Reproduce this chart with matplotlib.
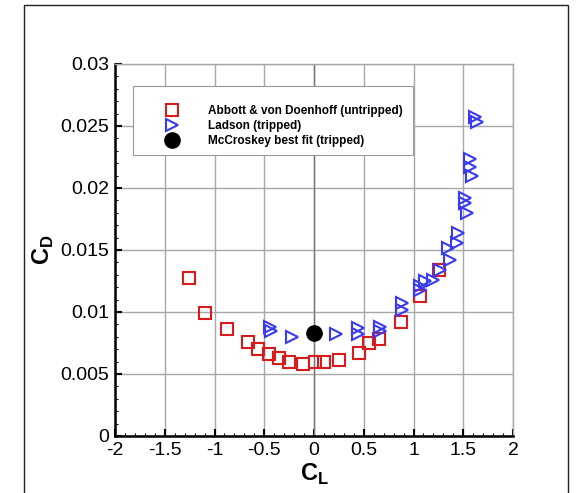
import matplotlib

matplotlib.use("Agg")
import matplotlib.pyplot as plt
from matplotlib.lines import Line2D
from matplotlib.patches import Rectangle

plt.rcParams["font.family"] = ["Liberation Sans", "DejaVu Sans"]
plt.rcParams["mathtext.fontset"] = "custom"
plt.rcParams["mathtext.rm"] = "Liberation Sans"
plt.rcParams["mathtext.bf"] = "Liberation Sans:bold"

# Abbott & von Doenhoff, untripped
abbott_cl = [-1.26, -1.10, -0.87, -0.66, -0.56, -0.455, -0.355, -0.255, -0.11,
             0.015, 0.105, 0.25, 0.45, 0.55, 0.655, 0.87, 1.07, 1.255]
abbott_cd = [0.01277, 0.00995, 0.0086, 0.0076, 0.0070, 0.0066, 0.0063, 0.0060,
             0.0058, 0.0060, 0.0060, 0.0061, 0.0067, 0.0075, 0.0078, 0.0092,
             0.0113, 0.0134]

# Ladson, tripped
ladson_cl = [-0.44, -0.43, -0.22, 0.22, 0.44, 0.44, 0.66, 0.66, 0.88, 0.88,
             1.065, 1.065, 1.115, 1.20, 1.265, 1.365, 1.35, 1.435, 1.45, 1.535,
             1.52, 1.52, 1.585, 1.57, 1.57, 1.62, 1.635]
ladson_cd = [0.0088, 0.0085, 0.0080, 0.0082, 0.0087, 0.0082, 0.0088, 0.0085,
             0.0107, 0.0102, 0.0118, 0.0121, 0.0125, 0.0126, 0.0134, 0.0142,
             0.0152, 0.0156, 0.0164, 0.0180, 0.0188, 0.0192, 0.0210, 0.0217,
             0.0223, 0.02575, 0.02535]

# McCroskey best fit, tripped
mccroskey_cl = [0.0]
mccroskey_cd = [0.0083]

red = "#d81c1c"
blue = "#3a3af0"
grid_gray = "#a8a8a8"

fig = plt.figure(figsize=(5.8, 4.93), dpi=100)
ax = fig.add_axes([115 / 580, 1 - 436 / 493, 398 / 580, 372 / 493])

ax.plot(abbott_cl, abbott_cd, ls="none", marker="s", ms=8, mfc="none",
        mec=red, mew=1.5, zorder=3)
ax.plot(ladson_cl, ladson_cd, ls="none", marker=">", ms=9, mfc="none",
        mec=blue, mew=1.5, zorder=4)
ax.plot(mccroskey_cl, mccroskey_cd, ls="none", marker="o", ms=11,
        color="black", zorder=5)

ax.set_xlim(-2, 2)
ax.set_ylim(0, 0.03)
ax.set_xticks([-2, -1.5, -1, -0.5, 0, 0.5, 1, 1.5, 2])
ax.set_xticklabels(["-2", "-1.5", "-1", "-0.5", "0", "0.5", "1", "1.5", "2"])
ax.set_yticks([0, 0.005, 0.01, 0.015, 0.02, 0.025, 0.03])
ax.set_yticklabels(["0", "0.005", "0.01", "0.015", "0.02", "0.025", "0.03"])
ax.set_xticks([x / 10 for x in range(-20, 21)], minor=True)
ax.set_yticks([y / 1000 for y in range(0, 31)], minor=True)

ax.grid(True, which="major", color=grid_gray, lw=1.0)
ax.axvline(0, color="#777777", lw=1.0, zorder=1)
ax.set_axisbelow(True)

ax.tick_params(which="major", direction="in", length=5, width=1.5,
               labelsize=14, pad=4, top=False, right=False)
ax.tick_params(which="minor", direction="in", length=2.5, width=0.8,
               top=False, right=False)

for side in ["left", "bottom"]:
    ax.spines[side].set_linewidth(1.8)
    ax.spines[side].set_color("black")
for side in ["top", "right"]:
    ax.spines[side].set_linewidth(1.0)
    ax.spines[side].set_color(grid_gray)

ax.set_xlabel(r"$\mathbf{C}_\mathbf{L}$", fontsize=17, labelpad=2)
ax.set_ylabel(r"$\mathbf{C}_\mathbf{D}$", fontsize=17, labelpad=3)

# legend box
ax.add_patch(Rectangle((0.045, 0.755), 0.704, 0.186, transform=ax.transAxes,
                       facecolor="white", edgecolor="#999999", lw=0.8,
                       zorder=6))
handles = [
    Line2D([], [], ls="none", marker="s", ms=8, mfc="none", mec=red, mew=1.5),
    Line2D([], [], ls="none", marker=">", ms=9, mfc="none", mec=blue, mew=1.5),
    Line2D([], [], ls="none", marker="o", ms=11, color="black"),
]
labels = ["Abbott & von Doenhoff (untripped)", "Ladson (tripped)",
          "McCroskey best fit (tripped)"]
leg = ax.legend(handles, labels, loc="center left",
                bbox_to_anchor=(0.128, 0.834), frameon=False,
                prop={"weight": "bold", "size": 8.5}, handlelength=1.0,
                handletextpad=2.6, labelspacing=0.25, borderpad=0,
                borderaxespad=0)
leg.set_zorder(7)

# outer frame
fig.patches.append(Rectangle((24 / 580, -0.1), 544 / 580, 1.1 - 5.5 / 493,
                             transform=fig.transFigure, fill=False,
                             edgecolor="#222222", lw=1.0))

fig.savefig("out.png", dpi=100)
